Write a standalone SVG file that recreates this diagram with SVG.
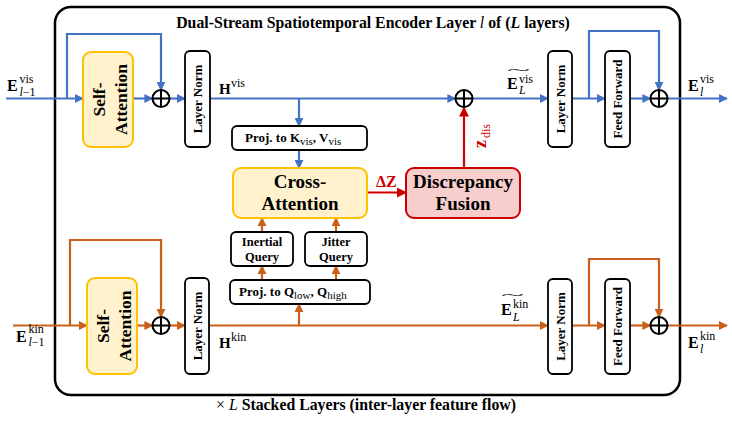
<svg xmlns="http://www.w3.org/2000/svg" width="732" height="424" viewBox="0 0 732 424">
<defs>
<marker id="ab" viewBox="0 0 10 10" refX="9" refY="5" markerWidth="9" markerHeight="9" markerUnits="userSpaceOnUse" orient="auto"><path d="M0,0 L10,5 L0,10 z" fill="#4472C4"/></marker>
<marker id="ao" viewBox="0 0 10 10" refX="9" refY="5" markerWidth="9" markerHeight="9" markerUnits="userSpaceOnUse" orient="auto"><path d="M0,0 L10,5 L0,10 z" fill="#C8601A"/></marker>
<marker id="ar" viewBox="0 0 10 10" refX="9" refY="5" markerWidth="10" markerHeight="10" markerUnits="userSpaceOnUse" orient="auto"><path d="M0,0 L10,5 L0,10 z" fill="#CC0000"/></marker>
<style>
text{font-family:"Liberation Serif","Times New Roman",serif;fill:#000}
.b{font-weight:bold}
.it{font-style:italic}
.blue{fill:none;stroke:#4472C4;stroke-width:2.2;marker-end:url(#ab)}
.or{fill:none;stroke:#C8601A;stroke-width:2.2;marker-end:url(#ao)}
.red{fill:none;stroke:#CC0000;stroke-width:2.2;marker-end:url(#ar)}
.yel{fill:#FFF2CC;stroke:#FFC000;stroke-width:2}
.wb{fill:#fff;stroke:#000;stroke-width:1.8}
.pk{fill:#F8CECC;stroke:#CC0000;stroke-width:2}
.op{fill:#fff;stroke:#000;stroke-width:2}
.rl{font-size:13px;font-weight:bold;text-anchor:middle;dominant-baseline:central}
.sa{font-size:17.5px;font-weight:bold;text-anchor:middle}
.big{font-size:19px;font-weight:bold;text-anchor:middle}
.q{font-size:12.5px;font-weight:bold;text-anchor:middle}
.pr{font-size:13px;font-weight:bold}
.sub{font-size:11px;font-weight:normal}
.E{font-size:16px;font-weight:bold}
.s{font-size:12px}
.rd{fill:#CC0000}
</style>
</defs>
<rect width="732" height="424" fill="#fff"/>

<g id="frame">
<rect x="55" y="7" width="625" height="388" rx="16" fill="none" stroke="#000" stroke-width="2.5"/>
<text x="373" y="28" font-size="15.8" text-anchor="middle" class="b">Dual-Stream Spatiotemporal Encoder Layer <tspan class="it" font-weight="normal">l</tspan> of (<tspan class="it">L</tspan> layers)</text>
</g>
<text id="caption" x="366" y="410" font-size="15.8" text-anchor="middle">× <tspan class="it">L</tspan> <tspan class="b">Stacked Layers (inter-layer feature flow)</tspan></text>

<g id="connectors">
<path class="blue" d="M6,98.5 H83"/>
<path class="blue" d="M67,98.5 V34 H161 V90"/>
<path class="blue" d="M133,98.5 H152.5"/>
<path class="blue" d="M169.5,98.5 H185"/>
<path class="blue" d="M210,98.5 H455.5"/>
<path class="blue" d="M299,98.5 V126"/>
<path class="blue" d="M299,150 V168"/>
<path class="blue" d="M472.5,98.5 H548"/>
<path class="blue" d="M572,98.5 H605"/>
<path class="blue" d="M589,98.5 V31 H659 V90"/>
<path class="blue" d="M630,98.5 H650.5"/>
<path class="blue" d="M667.5,98.5 H727"/>
<path class="or" d="M13,325.5 H87"/>
<path class="or" d="M70,325.5 V240 H161 V317"/>
<path class="or" d="M137,325.5 H152.5"/>
<path class="or" d="M169.5,325.5 H185"/>
<path class="or" d="M209,325.5 H548"/>
<path class="or" d="M299,325.5 V304"/>
<path class="or" d="M262,280 V266"/>
<path class="or" d="M336,280 V266"/>
<path class="or" d="M262,232 V218"/>
<path class="or" d="M336,232 V218"/>
<path class="or" d="M572,325.5 H605"/>
<path class="or" d="M589,325.5 V259 H659 V317"/>
<path class="or" d="M630,325.5 H650.5"/>
<path class="or" d="M667.5,325.5 H727"/>
<path class="red" d="M367,192.5 H406"/>
<path class="red" d="M464,168 V107.5"/>
</g>

<g id="labels">
<text x="7" y="91" class="E">E</text><text x="19.5" y="83" class="s">vis</text><text x="19.5" y="96" class="s"><tspan class="it">l</tspan>−1</text>
<text x="219" y="94" font-size="15" class="b">H</text><text x="231" y="87" class="s">vis</text>
<text x="507" y="89" class="E">E</text><text x="519" y="83" class="s">vis</text><text x="519" y="94" class="s it">L</text>
<text transform="translate(507,74) scale(3.3,1)" font-size="13">~</text>
<text x="688" y="91" class="E">E</text><text x="700" y="83" class="s">vis</text><text x="700" y="96" class="s it">l</text>

<text x="16" y="341.5" class="E">E</text><text x="28.5" y="333" class="s">kin</text><text x="28.5" y="346" class="s"><tspan class="it">l</tspan>−1</text>
<text x="219" y="348" font-size="15" class="b">H</text><text x="231" y="341" class="s">kin</text>
<text x="501" y="315" class="E">E</text><text x="513" y="308" class="s">kin</text><text x="513" y="321" class="s it">L</text>
<text transform="translate(501,299) scale(3.3,1)" font-size="13">~</text>
<text x="688" y="348" class="E">E</text><text x="700" y="340" class="s">kin</text><text x="700" y="353" class="s it">l</text>

<text x="376" y="187" font-size="16" class="b rd">ΔZ</text>
<text transform="translate(486,148) rotate(-90)" font-size="18" class="b rd">z</text>
<text transform="translate(490,138) rotate(-90)" font-size="12" class="rd">dis</text>
</g>

<g id="sa_top">
<rect class="yel" x="83" y="52" width="50" height="95" rx="8"/>
<text class="sa" transform="translate(105,99.5) rotate(-90)">Self-</text>
<text class="sa" transform="translate(127,99.5) rotate(-90)">Attention</text>
</g>
<g id="add_top1"><circle class="op" cx="161" cy="98.5" r="8.5"/><path d="M152.5,98.5 H169.5 M161,90 V107" stroke="#000" stroke-width="2"/></g>
<g id="ln_top1"><rect class="wb" x="185" y="51" width="25" height="96" rx="5"/><text class="rl" transform="translate(197.5,99) rotate(-90)">Layer Norm</text></g>

<g id="proj_kv"><rect class="wb" x="232" y="126" width="135" height="24" rx="5"/>
<text x="245" y="142" class="pr">Proj. to K<tspan class="sub" dy="3">vis</tspan><tspan dy="-3">, V</tspan><tspan class="sub" dy="3">vis</tspan></text></g>
<g id="cross_attn"><rect class="yel" x="233" y="168" width="134" height="50" rx="8"/>
<text class="big" x="300" y="188">Cross-</text><text class="big" x="300" y="210">Attention</text></g>
<g id="disc_fusion"><rect class="pk" x="406" y="168" width="114" height="50" rx="8"/>
<text class="big" x="463" y="188">Discrepancy</text><text class="big" x="463" y="210">Fusion</text></g>
<g id="inertial"><rect class="wb" x="231" y="232" width="62" height="34" rx="5"/>
<text class="q" x="262" y="246">Inertial</text><text class="q" x="262" y="261">Query</text></g>
<g id="jitter"><rect class="wb" x="305" y="232" width="62" height="34" rx="5"/>
<text class="q" x="336" y="246">Jitter</text><text class="q" x="336" y="261">Query</text></g>
<g id="proj_q"><rect class="wb" x="230" y="280" width="140" height="24" rx="5"/>
<text x="239" y="296" class="pr">Proj. to Q<tspan class="sub" dy="3">low</tspan><tspan dy="-3">, Q</tspan><tspan class="sub" dy="3">high</tspan></text></g>

<g id="add_fuse"><circle class="op" cx="464" cy="98.5" r="8.5"/><path d="M455.5,98.5 H472.5 M464,90 V107" stroke="#000" stroke-width="2"/></g>
<g id="ln_top2"><rect class="wb" x="548" y="51" width="24" height="96" rx="5"/><text class="rl" transform="translate(560,99) rotate(-90)">Layer Norm</text></g>
<g id="ff_top"><rect class="wb" x="605" y="51" width="25" height="96" rx="5"/><text class="rl" transform="translate(617.5,99) rotate(-90)">Feed Forward</text></g>
<g id="add_top2"><circle class="op" cx="659" cy="98.5" r="8.5"/><path d="M650.5,98.5 H667.5 M659,90 V107" stroke="#000" stroke-width="2"/></g>

<g id="sa_bot">
<rect class="yel" x="87" y="278" width="50" height="96" rx="8"/>
<text class="sa" transform="translate(109,326) rotate(-90)">Self-</text>
<text class="sa" transform="translate(131,326) rotate(-90)">Attention</text>
</g>
<g id="add_bot1"><circle class="op" cx="161" cy="325.5" r="8.5"/><path d="M152.5,325.5 H169.5 M161,317 V334" stroke="#000" stroke-width="2"/></g>
<g id="ln_bot1"><rect class="wb" x="185" y="278" width="24" height="96" rx="5"/><text class="rl" transform="translate(197,326) rotate(-90)">Layer Norm</text></g>
<g id="ln_bot2"><rect class="wb" x="548" y="279" width="24" height="95" rx="5"/><text class="rl" transform="translate(560,326.5) rotate(-90)">Layer Norm</text></g>
<g id="ff_bot"><rect class="wb" x="605" y="279" width="25" height="95" rx="5"/><text class="rl" transform="translate(617.5,326.5) rotate(-90)">Feed Forward</text></g>
<g id="add_bot2"><circle class="op" cx="659" cy="325.5" r="8.5"/><path d="M650.5,325.5 H667.5 M659,317 V334" stroke="#000" stroke-width="2"/></g>
</svg>
